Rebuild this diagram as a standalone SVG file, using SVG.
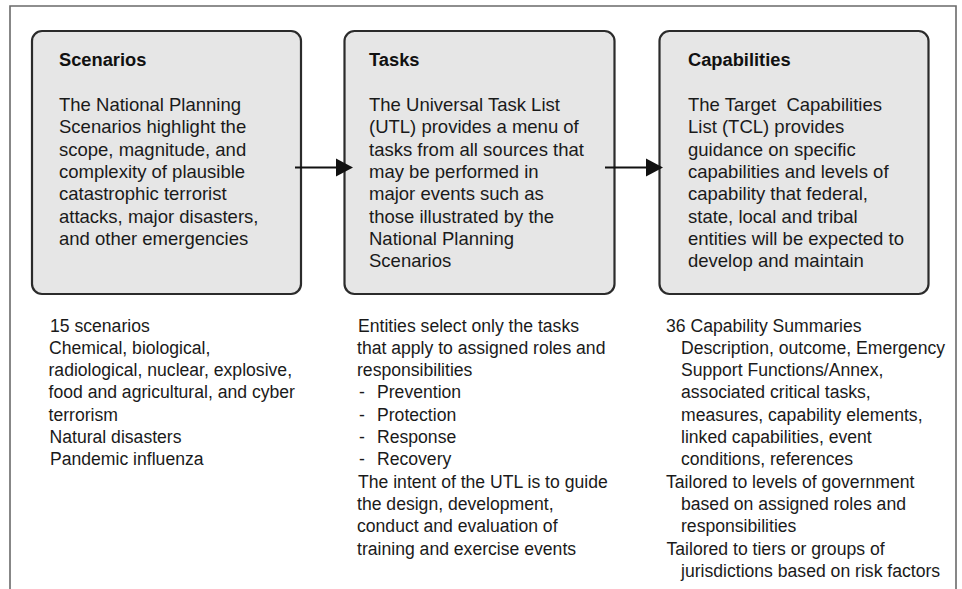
<svg xmlns="http://www.w3.org/2000/svg" width="962" height="589" viewBox="0 0 962 589">
<style>
.frame{fill:none;stroke:#6a6a6a;stroke-width:1.6}
.box{fill:#e6e6e6;stroke:#2b2b2b;stroke-width:2.2}
.t{font-family:"Liberation Sans",Arial,sans-serif;font-size:18.5px;fill:#1a1a1a;white-space:pre}
.n{font-family:"Liberation Sans",Arial,sans-serif;font-size:17.6px;fill:#1a1a1a;white-space:pre}
.h{font-family:"Liberation Sans",Arial,sans-serif;font-size:18.3px;font-weight:bold;fill:#111}
.line{stroke:#111;stroke-width:2.2;fill:none}
.head{fill:#111}
</style>
<rect x="0" y="0" width="962" height="589" fill="#ffffff"/>
<path class="frame" d="M10,589 V6 H956 V589"/>

<g id="scenarios">
<rect class="box" x="32" y="31" width="269" height="263" rx="10" ry="10"/>
<text class="h" x="59" y="66">Scenarios</text>
<text class="t" x="59" y="111">The National Planning</text>
<text class="t" x="59" y="133.3">Scenarios highlight the</text>
<text class="t" x="59" y="155.6">scope, magnitude, and</text>
<text class="t" x="59" y="177.9">complexity of plausible</text>
<text class="t" x="59" y="200.2">catastrophic terrorist</text>
<text class="t" x="59" y="222.5">attacks, major disasters,</text>
<text class="t" x="59" y="244.8">and other emergencies</text>
</g>

<g id="tasks">
<rect class="box" x="344.5" y="31" width="270" height="263" rx="10" ry="10"/>
<text class="h" x="369" y="66">Tasks</text>
<text class="t" x="369" y="111">The Universal Task List</text>
<text class="t" x="369" y="133.3">(UTL) provides a menu of</text>
<text class="t" x="369" y="155.6">tasks from all sources that</text>
<text class="t" x="369" y="177.9">may be performed in</text>
<text class="t" x="369" y="200.2">major events such as</text>
<text class="t" x="369" y="222.5">those illustrated by the</text>
<text class="t" x="369" y="244.8">National Planning</text>
<text class="t" x="369" y="267.1">Scenarios</text>
</g>

<g id="capabilities">
<rect class="box" x="659.5" y="31" width="269" height="263" rx="10" ry="10"/>
<text class="h" x="688" y="66">Capabilities</text>
<text class="t" x="688" y="111">The Target  Capabilities</text>
<text class="t" x="688" y="133.3">List (TCL) provides</text>
<text class="t" x="688" y="155.6">guidance on specific</text>
<text class="t" x="688" y="177.9">capabilities and levels of</text>
<text class="t" x="688" y="200.2">capability that federal,</text>
<text class="t" x="688" y="222.5">state, local and tribal</text>
<text class="t" x="688" y="244.8">entities will be expected to</text>
<text class="t" x="688" y="267.1">develop and maintain</text>
</g>

<g id="scenarios-notes">
<text class="n" x="50" y="331.5">15 scenarios</text>
<text class="n" x="49" y="353.8">Chemical, biological,</text>
<text class="n" x="48.5" y="376.1">radiological, nuclear, explosive,</text>
<text class="n" x="48.5" y="398.4">food and agricultural, and cyber</text>
<text class="n" x="48.5" y="420.7">terrorism</text>
<text class="n" x="49.5" y="443">Natural disasters</text>
<text class="n" x="50" y="465.3">Pandemic influenza</text>
</g>

<g id="tasks-notes">
<text class="n" x="358" y="331.5">Entities select only the tasks</text>
<text class="n" x="357" y="353.8">that apply to assigned roles and</text>
<text class="n" x="357" y="376.1">responsibilities</text>
<text class="n" x="359" y="398.4">-</text><text class="n" x="377" y="398.4">Prevention</text>
<text class="n" x="359" y="420.7">-</text><text class="n" x="377" y="420.7">Protection</text>
<text class="n" x="359" y="443">-</text><text class="n" x="377" y="443">Response</text>
<text class="n" x="359" y="465.3">-</text><text class="n" x="377" y="465.3">Recovery</text>
<text class="n" x="358" y="487.6">The intent of the UTL is to guide</text>
<text class="n" x="357" y="509.9">the design, development,</text>
<text class="n" x="357" y="532.2">conduct and evaluation of</text>
<text class="n" x="357" y="554.5">training and exercise events</text>
</g>

<g id="capabilities-notes">
<text class="n" x="666" y="331.5">36 Capability Summaries</text>
<text class="n" x="681" y="353.8">Description, outcome, Emergency</text>
<text class="n" x="681" y="376.1">Support Functions/Annex,</text>
<text class="n" x="681" y="398.4">associated critical tasks,</text>
<text class="n" x="681" y="420.7">measures, capability elements,</text>
<text class="n" x="681" y="443">linked capabilities, event</text>
<text class="n" x="681" y="465.3">conditions, references</text>
<text class="n" x="666" y="487.6">Tailored to levels of government</text>
<text class="n" x="681" y="509.9">based on assigned roles and</text>
<text class="n" x="681" y="532.2">responsibilities</text>
<text class="n" x="666.5" y="554.5">Tailored to tiers or groups of</text>
<text class="n" x="681" y="576.8">jurisdictions based on risk factors</text>
</g>

<g id="connectors">
<line class="line" x1="295" y1="167.5" x2="338" y2="167.5"/>
<polygon class="head" points="336,158.5 353,167.5 336,176.5"/>
<line class="line" x1="605" y1="167.5" x2="648" y2="167.5"/>
<polygon class="head" points="646,158.5 663,167.5 646,176.5"/>
</g>
</svg>
